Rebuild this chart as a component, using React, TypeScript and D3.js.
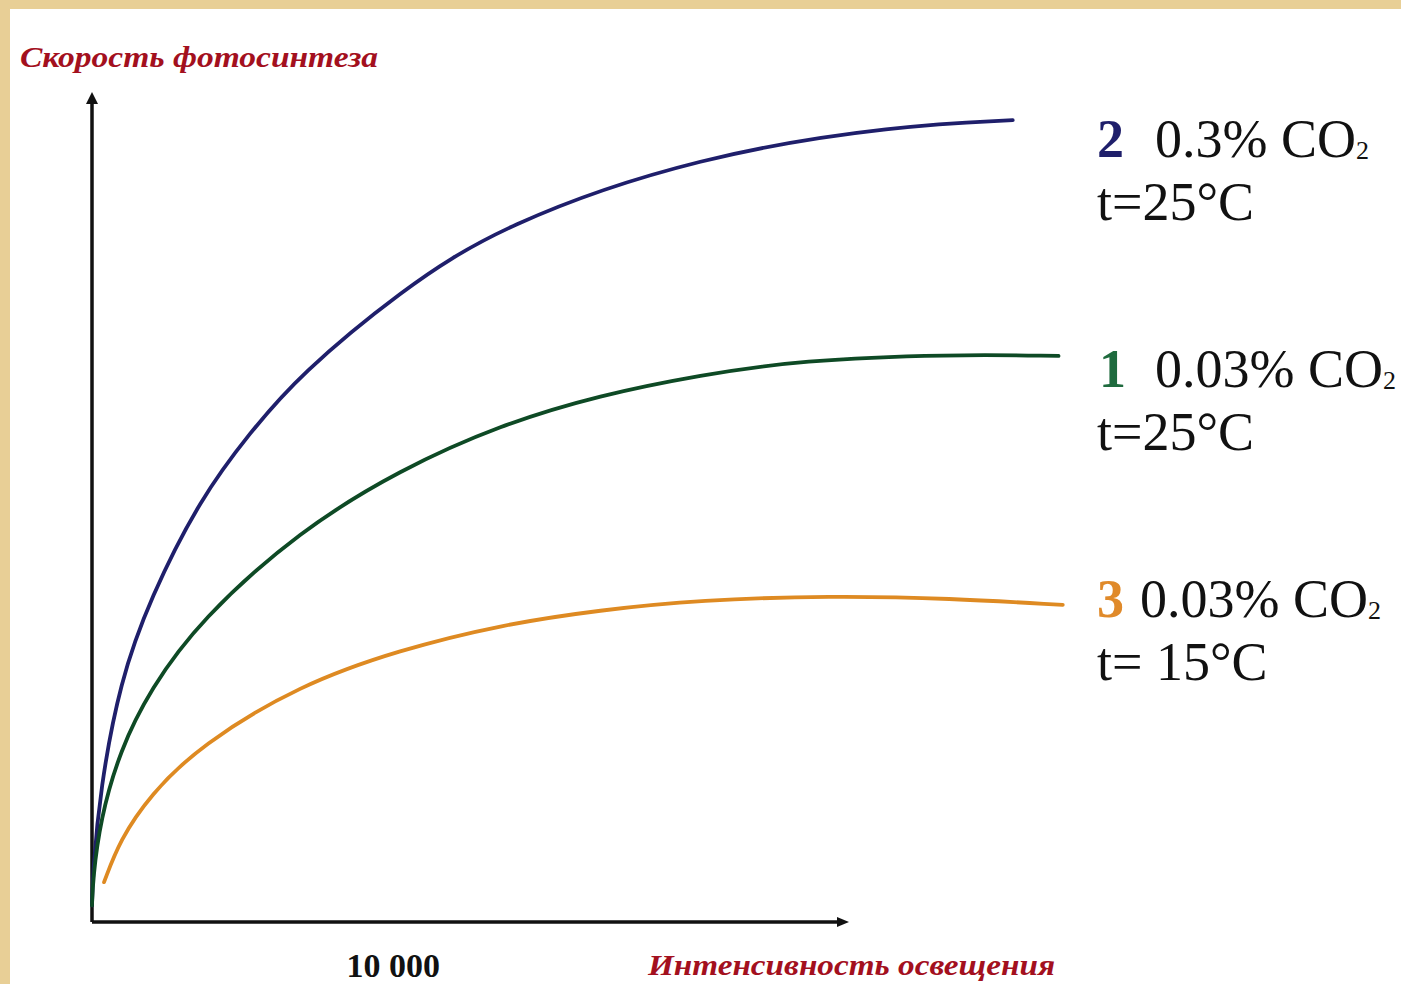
import React from "react";
import * as d3 from "d3";

type Pt = [number, number];

// Light intensity (lux) vs photosynthesis rate (relative units)
const series2: Pt[] = [
  [0, 2], [30, 6], [270, 16], [930, 29], [1930, 39], [3590, 51], [5250, 59],
  [6910, 66], [10230, 76], [13560, 84], [20200, 92.4], [26840, 96], [30570, 96.6],
];
const series1: Pt[] = [
  [0, 2], [30, 5.1], [270, 12.3], [930, 20.7], [1930, 28], [3590, 36.4], [6910, 47.2],
  [10230, 54.5], [13560, 59.9], [16880, 63.5], [20200, 65.9], [23520, 67.7],
  [28500, 68.4], [32090, 68.2],
];
const series3: Pt[] = [
  [400, 4.8], [930, 9.9], [1930, 15.3], [3590, 21.3], [6910, 28.6], [10230, 32.8],
  [13560, 35.8], [16880, 37.6], [20200, 38.8], [24520, 39.3], [28500, 39.0], [32230, 38.2],
];
const xTicks = [10000];
const xTickLabels = ["10 000"];
const yAxisTitle = "Скорость фотосинтеза";
const xAxisTitle = "Интенсивность освещения";
const legendNums = ["2", "1", "3"];
const legendCO2 = ["0.3% CO", "0.03% CO", "0.03% CO"];
const legendTemp = ["t=25°C", "t=25°C", "t= 15°C"];

const W = 1401;
const H = 984;

export default function App() {
  const x = d3.scaleLinear().domain([0, 25000]).range([92, 845]);
  const y = d3.scaleLinear().domain([0, 100]).range([922, 92]);
  const line = d3
    .line<Pt>()
    .x((d) => x(d[0]))
    .y((d) => y(d[1]))
    .curve(d3.curveBasis);

  const curves = [
    { data: series2, color: "#1f1f6b" },
    { data: series1, color: "#0e4a25" },
    { data: series3, color: "#de8a22" },
  ];

  const legend = [
    { num: legendNums[0], co2: legendCO2[0], t: legendTemp[0], color: "#1f1f6b", nx: 1097, cx: 1155, y1: 157, y2: 220 },
    { num: legendNums[1], co2: legendCO2[1], t: legendTemp[1], color: "#1f6b3e", nx: 1099, cx: 1155, y1: 387, y2: 450 },
    { num: legendNums[2], co2: legendCO2[2], t: legendTemp[2], color: "#e08a2a", nx: 1097, cx: 1140, y1: 617, y2: 680 },
  ];

  const titleStyle: React.CSSProperties = {
    fontFamily: "'Liberation Serif', 'DejaVu Serif', serif",
    fontStyle: "italic",
    fontWeight: "bold",
  };

  return (
    <svg
      width={W}
      height={H}
      style={{ position: "fixed", left: 0, top: 0, display: "block" }}
      viewBox={`0 0 ${W} ${H}`}
    >
      <rect x={0} y={0} width={W} height={H} fill="#ffffff" />
      <rect x={0} y={0} width={W} height={9} fill="#e8cf96" />
      <rect x={0} y={0} width={10} height={H} fill="#e8cf96" />

      {/* axes */}
      <line x1={x(0)} y1={y(0)} x2={x(0)} y2={100} stroke="#111" strokeWidth={3.5} />
      <path d={`M${x(0)},92 L${x(0) - 6},104 L${x(0) + 6},104 Z`} fill="#111" />
      <line x1={x(0)} y1={y(0)} x2={840} y2={y(0)} stroke="#111" strokeWidth={3.5} />
      <path d={`M849,${y(0)} L837,${y(0) - 5} L837,${y(0) + 5} Z`} fill="#111" />

      {/* curves */}
      {curves.map((c, i) => (
        <path
          key={i}
          d={line(c.data) || ""}
          fill="none"
          stroke={c.color}
          strokeWidth={3.8}
          strokeLinecap="round"
        />
      ))}

      {/* x tick label */}
      {xTicks.map((t, i) => (
        <text
          key={t}
          x={x(t)}
          y={977}
          textAnchor="middle"
          fontFamily="'Liberation Serif', serif"
          fontWeight="bold"
          fontSize={34}
          fill="#111"
        >
          {xTickLabels[i]}
        </text>
      ))}

      {/* axis titles */}
      <text x={20} y={67} fontSize={30} fill="#a3101e" style={titleStyle} textLength={358} lengthAdjust="spacingAndGlyphs">
        {yAxisTitle}
      </text>
      <text x={648} y={975} fontSize={30} fill="#a3101e" style={titleStyle} textLength={407} lengthAdjust="spacingAndGlyphs">
        {xAxisTitle}
      </text>

      {/* legend */}
      {legend.map((l, i) => (
        <g key={i} fontFamily="'Liberation Serif', 'Times New Roman', serif" fontSize={54} fill="#111">
          <text x={l.nx} y={l.y1} fill={l.color} fontWeight="bold">
            {l.num}
          </text>
          <text x={l.cx} y={l.y1}>
            {l.co2}
            <tspan fontSize={26} dy={2}>2</tspan>
          </text>
          <text x={1097} y={l.y2}>
            {l.t}
          </text>
        </g>
      ))}
    </svg>
  );
}
